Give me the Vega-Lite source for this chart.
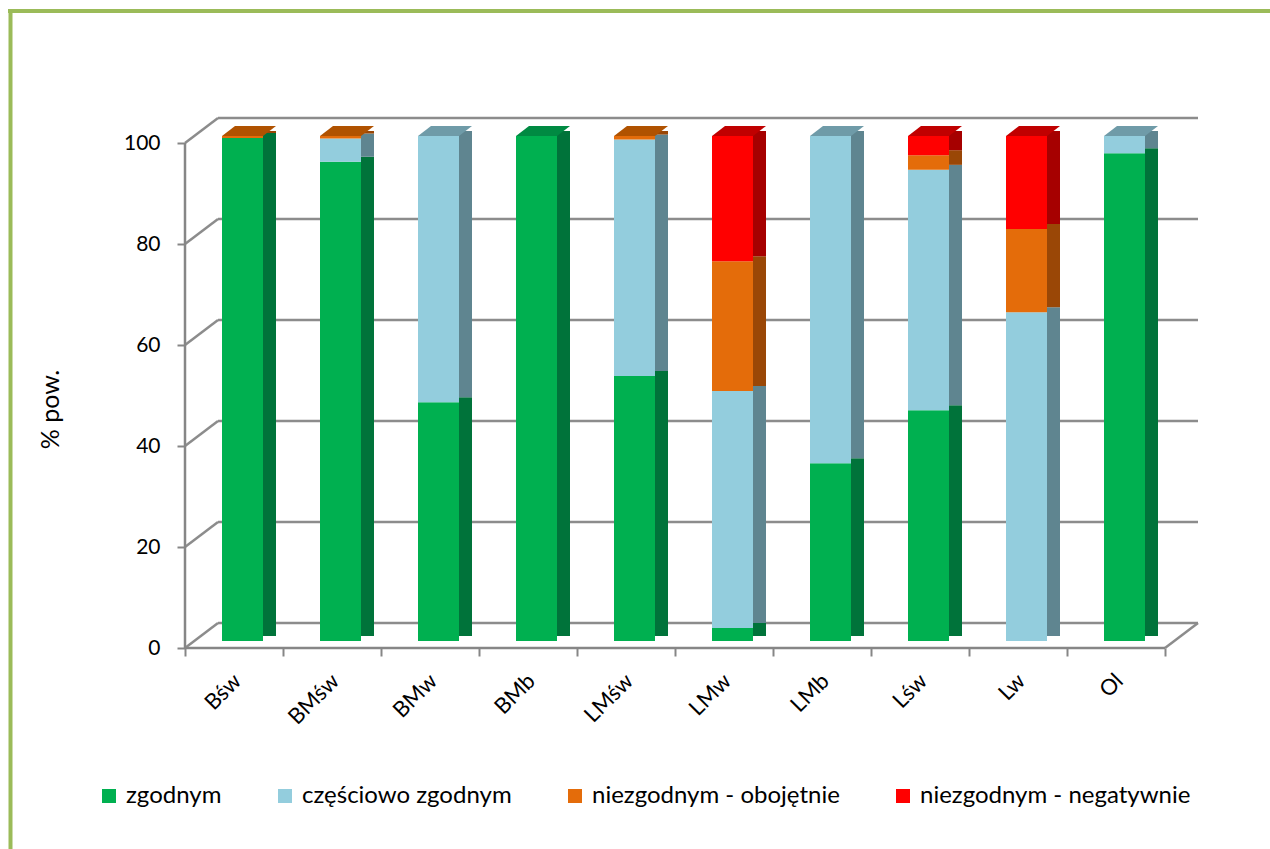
{
  "$schema": "https://vega.github.io/schema/vega-lite/v6.json",
  "width": 1260,
  "height": 838,
  "autosize": {"type": "none"},
  "padding": {"left": 10, "top": 11, "right": 0, "bottom": 0},
  "background": "white",
  "datasets": {
    "levels": [{"lvl": 0}, {"lvl": 20}, {"lvl": 40}, {"lvl": 60}, {"lvl": 80}, {"lvl": 100}],
    "one": [{"o": 1}],
    "main": [
      {"cat": "Bśw", "s": "zgodnym", "k": 1, "v": 99.6},
      {"cat": "Bśw", "s": "częściowo zgodnym", "k": 2, "v": 0},
      {"cat": "Bśw", "s": "niezgodnym - obojętnie", "k": 3, "v": 0.4},
      {"cat": "Bśw", "s": "niezgodnym - negatywnie", "k": 4, "v": 0},
      {"cat": "BMśw", "s": "zgodnym", "k": 1, "v": 94.9},
      {"cat": "BMśw", "s": "częściowo zgodnym", "k": 2, "v": 4.6},
      {"cat": "BMśw", "s": "niezgodnym - obojętnie", "k": 3, "v": 0.5},
      {"cat": "BMśw", "s": "niezgodnym - negatywnie", "k": 4, "v": 0},
      {"cat": "BMw", "s": "zgodnym", "k": 1, "v": 47.3},
      {"cat": "BMw", "s": "częściowo zgodnym", "k": 2, "v": 52.7},
      {"cat": "BMw", "s": "niezgodnym - obojętnie", "k": 3, "v": 0},
      {"cat": "BMw", "s": "niezgodnym - negatywnie", "k": 4, "v": 0},
      {"cat": "BMb", "s": "zgodnym", "k": 1, "v": 100},
      {"cat": "BMb", "s": "częściowo zgodnym", "k": 2, "v": 0},
      {"cat": "BMb", "s": "niezgodnym - obojętnie", "k": 3, "v": 0},
      {"cat": "BMb", "s": "niezgodnym - negatywnie", "k": 4, "v": 0},
      {"cat": "LMśw", "s": "zgodnym", "k": 1, "v": 52.5},
      {"cat": "LMśw", "s": "częściowo zgodnym", "k": 2, "v": 46.8},
      {"cat": "LMśw", "s": "niezgodnym - obojętnie", "k": 3, "v": 0.7},
      {"cat": "LMśw", "s": "niezgodnym - negatywnie", "k": 4, "v": 0},
      {"cat": "LMw", "s": "zgodnym", "k": 1, "v": 2.6},
      {"cat": "LMw", "s": "częściowo zgodnym", "k": 2, "v": 46.9},
      {"cat": "LMw", "s": "niezgodnym - obojętnie", "k": 3, "v": 25.7},
      {"cat": "LMw", "s": "niezgodnym - negatywnie", "k": 4, "v": 24.8},
      {"cat": "LMb", "s": "zgodnym", "k": 1, "v": 35.2},
      {"cat": "LMb", "s": "częściowo zgodnym", "k": 2, "v": 64.8},
      {"cat": "LMb", "s": "niezgodnym - obojętnie", "k": 3, "v": 0},
      {"cat": "LMb", "s": "niezgodnym - negatywnie", "k": 4, "v": 0},
      {"cat": "Lśw", "s": "zgodnym", "k": 1, "v": 45.7},
      {"cat": "Lśw", "s": "częściowo zgodnym", "k": 2, "v": 47.6},
      {"cat": "Lśw", "s": "niezgodnym - obojętnie", "k": 3, "v": 2.9},
      {"cat": "Lśw", "s": "niezgodnym - negatywnie", "k": 4, "v": 3.8},
      {"cat": "Lw", "s": "zgodnym", "k": 1, "v": 0},
      {"cat": "Lw", "s": "częściowo zgodnym", "k": 2, "v": 65.1},
      {"cat": "Lw", "s": "niezgodnym - obojętnie", "k": 3, "v": 16.5},
      {"cat": "Lw", "s": "niezgodnym - negatywnie", "k": 4, "v": 18.4},
      {"cat": "Ol", "s": "zgodnym", "k": 1, "v": 96.6},
      {"cat": "Ol", "s": "częściowo zgodnym", "k": 2, "v": 3.4},
      {"cat": "Ol", "s": "niezgodnym - obojętnie", "k": 3, "v": 0},
      {"cat": "Ol", "s": "niezgodnym - negatywnie", "k": 4, "v": 0}
    ]
  },
  "data": {"name": "main"},
  "resolve": {"scale": {"color": "independent"}, "axis": {"y": "independent"}},
  "layer": [
    {
      "data": {"name": "one"},
      "mark": {"type": "rule", "color": "#9BBB59", "strokeWidth": 4, "strokeCap": "square"},
      "encoding": {
        "y": {
          "datum": 126.14, "type": "quantitative",
          "axis": {"orient": "left", "offset": 0, "domain": true, "domainColor": "#9BBB59", "domainWidth": 4, "domainCap": "square", "labels": false, "ticks": false, "grid": false, "title": null}
        }
      }
    },
    {
      "data": {"name": "levels"},
      "mark": {"type": "rule", "color": "#8C8C8C", "strokeWidth": 2.5, "xOffset": -16, "x2Offset": 82, "yOffset": -25, "y2Offset": -25},
      "encoding": {
        "x": {"datum": "Bśw", "type": "nominal", "title": null},
        "x2": {"datum": "Ol"},
        "y": {"field": "lvl", "type": "quantitative", "axis": null, "stack": null}
      }
    },
    {
      "data": {"name": "levels"},
      "mark": {"type": "point", "shape": "M-1,0.7576L1,-0.7576", "size": 1089, "filled": false, "stroke": "#8C8C8C", "strokeWidth": 2.5, "opacity": 1, "xOffset": -32.5, "yOffset": -12.5},
      "encoding": {
        "x": {"datum": "Bśw", "type": "nominal", "title": null},
        "y": {"field": "lvl", "type": "quantitative", "axis": null, "stack": null}
      }
    },
    {
      "data": {"name": "one"},
      "mark": {"type": "point", "shape": "M-1,0.7576L1,-0.7576", "size": 1089, "filled": false, "stroke": "#8C8C8C", "strokeWidth": 2.5, "opacity": 1, "xOffset": 65.5, "yOffset": -12.5},
      "encoding": {
        "x": {"datum": "Ol", "type": "nominal", "title": null},
        "y": {"datum": 0, "type": "quantitative", "axis": null}
      }
    },
    {
      "data": {"name": "one"},
      "mark": {"type": "rule", "color": "#868686", "strokeWidth": 2.5, "xOffset": -49, "x2Offset": 49},
      "encoding": {
        "x": {"datum": "Bśw", "type": "nominal", "title": null},
        "x2": {"datum": "Ol"},
        "y": {"datum": 0, "type": "quantitative", "axis": null}
      }
    },
    {
      "data": {"name": "one"},
      "mark": {"type": "rule", "color": "#868686", "strokeWidth": 2.5, "xOffset": -49},
      "encoding": {
        "x": {"datum": "Bśw", "type": "nominal", "title": null},
        "y": {"datum": 0, "type": "quantitative", "axis": null},
        "y2": {"datum": 100}
      }
    },
    {
      "mark": {"type": "bar", "width": 13, "xOffset": 35.5, "yOffset": -12, "y2Offset": -12},
      "encoding": {
        "x": {"field": "cat", "type": "nominal", "title": null},
        "y": {"field": "v", "type": "quantitative", "axis": null},
        "order": {"field": "k", "type": "quantitative"},
        "color": {
          "field": "s", "type": "nominal", "legend": null,
          "scale": {
            "domain": ["zgodnym", "częściowo zgodnym", "niezgodnym - obojętnie", "niezgodnym - negatywnie"],
            "range": ["#00733A", "#5F8590", "#9A4706", "#A60000"]
          }
        }
      }
    },
    {
      "transform": [
        {"filter": "datum.v > 0"},
        {"joinaggregate": [{"op": "sum", "field": "v", "as": "total"}], "groupby": ["cat"]},
        {"window": [{"op": "row_number", "as": "rn"}], "sort": [{"field": "k", "order": "descending"}], "groupby": ["cat"]},
        {"filter": "datum.rn == 1"}
      ],
      "mark": {"type": "point", "shape": "M-1,0.185L0.5185,0.185L1,-0.185L-0.5185,-0.185Z", "size": 2916, "filled": true, "opacity": 1, "strokeWidth": 0, "xOffset": 15, "yOffset": -12},
      "encoding": {
        "x": {"field": "cat", "type": "nominal", "title": null},
        "y": {"field": "total", "type": "quantitative", "axis": null, "stack": null},
        "color": {
          "field": "s", "type": "nominal", "legend": null,
          "scale": {
            "domain": ["zgodnym", "częściowo zgodnym", "niezgodnym - obojętnie", "niezgodnym - negatywnie"],
            "range": ["#008A42", "#6F9BA8", "#B05200", "#C00000"]
          }
        }
      }
    },
    {
      "mark": {"type": "bar", "width": 41, "xOffset": 8.5, "yOffset": -7, "y2Offset": -7},
      "encoding": {
        "x": {
          "field": "cat", "type": "nominal", "title": null,
          "scale": {
            "type": "band",
            "domain": ["Bśw", "BMśw", "BMw", "BMb", "LMśw", "LMw", "LMb", "Lśw", "Lw", "Ol"],
            "range": [175, 1155],
            "paddingInner": 0, "paddingOuter": 0
          }
        },
        "y": {
          "field": "v", "type": "quantitative", "title": "% pow.",
          "scale": {"domain": [-39.8, 126.14], "nice": false, "zero": false},
          "axis": {"orient": "left", "offset": -175, "values": [0, 20, 40, 60, 80, 100]}
        },
        "order": {"field": "k", "type": "quantitative"},
        "color": {
          "field": "s", "type": "nominal",
          "scale": {
            "domain": ["zgodnym", "częściowo zgodnym", "niezgodnym - obojętnie", "niezgodnym - negatywnie"],
            "range": ["#00B050", "#93CDDD", "#E46C0A", "#FF0000"]
          },
          "legend": {
            "orient": "none", "legendX": 87, "legendY": 773, "direction": "horizontal",
            "title": null, "symbolType": "square", "symbolSize": 196, "symbolStrokeWidth": 0,
            "labelFontSize": 24, "labelOffset": 5, "columnPadding": 51, "padding": 0, "labelLimit": 500,
            "labelColor": "black", "labelFont": "Lato"
          }
        }
      }
    }
  ],
  "config": {
    "font": "Lato",
    "view": {"stroke": null},
    "axisY": {
      "domain": false, "grid": false, "tickSize": 8, "tickColor": "#868686", "tickWidth": 2,
      "labelFontSize": 21, "labelColor": "black", "labelPadding": 17, "labelFont": "Lato",
      "titleFontSize": 25, "titleFontWeight": "normal", "titleColor": "black", "titleFont": "Lato",
      "titleX": -127, "titleY": 398, "titleAngle": -90, "titleAlign": "center", "titleBaseline": "alphabetic"
    },
    "axisX": {
      "offset": -201, "domain": false, "grid": false, "tickBand": "extent", "tickSize": 8, "tickColor": "#868686", "tickWidth": 2,
      "labelAngle": -45, "labelFontSize": 22, "labelColor": "black", "labelPadding": 14, "labelOffset": -4, "labelFont": "Lato"
    }
  }
}
